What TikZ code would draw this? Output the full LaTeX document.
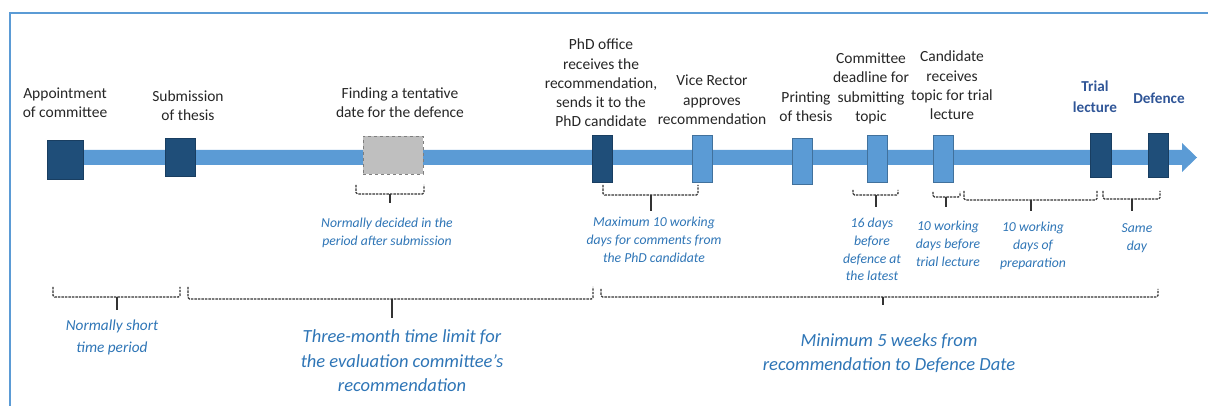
\documentclass[tikz,border=0pt]{standalone}
\usepackage{fontspec}
\setmainfont{Carlito}
\definecolor{barblue}{HTML}{5B9BD5}
\definecolor{darkbox}{HTML}{1F4E79}
\definecolor{lightedge}{HTML}{41719C}
\definecolor{greyfill}{HTML}{BFBFBF}
\definecolor{greyedge}{HTML}{7F7F7F}
\definecolor{labelblue}{HTML}{2E75B6}
\definecolor{boldblue}{HTML}{2F5597}
\definecolor{txtcol}{HTML}{262626}
\definecolor{bracecol}{HTML}{333333}
\newcommand{\tlbrace}[6]{%
  \draw[bracestyle] (#1,#3) -- (#1,#4) -- (#2,#4) -- (#2,#3);
  \draw[bracecol, line width=1.1pt] (#5,#4) -- (#5,#6);
}
\begin{document}
\begin{tikzpicture}[x=1pt,y=-1pt,
  dbox/.style={rectangle, fill=darkbox, draw=darkbox!80!black, line width=0.5pt, inner sep=0, outer sep=0},
  lbox/.style={rectangle, fill=barblue, draw=lightedge, line width=0.7pt, inner sep=0, outer sep=0},
  gbox/.style={rectangle, fill=greyfill, draw=greyedge, dashed, line width=0.8pt, inner sep=0, outer sep=0},
  lbl/.style={align=center, inner sep=0, text=txtcol, font=\fontsize{15.5}{19.3}\selectfont},
  blbl/.style={align=center, inner sep=0, text=boldblue, font=\bfseries\fontsize{15.2}{21}\selectfont},
  slbl/.style={align=center, inner sep=0, text=labelblue, font=\itshape\fontsize{13.7}{17.8}\selectfont},
  mlbl/.style={align=center, inner sep=0, text=labelblue, font=\itshape\fontsize{15.3}{22}\selectfont},
  llbl/.style={align=center, inner sep=0, text=labelblue, font=\itshape\fontsize{18.5}{24.5}\selectfont},
  bracestyle/.style={draw=bracecol, line width=1.1pt, dash pattern=on 2.4pt off 1.1pt, rounded corners=1.5pt}
]
\useasboundingbox (0,0) rectangle (1208,406);
% frame
\draw[barblue, line width=1.6pt] (10,406) -- (10,13) -- (1208,13);
% timeline arrow
\fill[barblue] (50,150) -- (1182,150) -- (1182,143) -- (1197,157.5) -- (1182,172) -- (1182,165) -- (50,165) -- cycle;
% boxes
\node[dbox, minimum width=36pt, minimum height=39pt] (b1) at (65,159.5) {};
\node[dbox, minimum width=30pt, minimum height=38pt] (b2) at (180,157) {};
\node[gbox, minimum width=60pt, minimum height=38pt] (b3) at (393,155) {};
\node[dbox, minimum width=20pt, minimum height=47pt] (b4) at (602,158.5) {};
\node[lbox, minimum width=20pt, minimum height=47pt] (b5) at (702,158.5) {};
\node[lbox, minimum width=20pt, minimum height=46pt] (b6) at (802,161) {};
\node[lbox, minimum width=20pt, minimum height=47pt] (b7) at (877,158.5) {};
\node[lbox, minimum width=20pt, minimum height=47pt] (b8) at (943,158.5) {};
\node[dbox, minimum width=21pt, minimum height=44pt] (b9) at (1100.5,155) {};
\node[dbox, minimum width=20pt, minimum height=44pt] (b10) at (1158,155) {};
% event labels
\node[lbl] (t1) at (65,103) {Appointment\\of committee};
\node[lbl] (t2) at (188,106) {Submission\\of thesis};
\node[lbl] (t3) at (400,103) {Finding a tentative\\date for the defence};
\node[lbl] (t4) at (601,83) {PhD office\\receives the\\recommendation,\\sends it to the\\PhD candidate};
\node[lbl] (t5) at (712,100) {Vice Rector\\approves\\recommendation};
\node[lbl] (t6) at (806,107) {Printing\\of thesis};
\node[lbl] (t7) at (871,88.5) {Committee\\deadline for\\submitting\\topic};
\node[lbl] (t8) at (952,85.5) {Candidate\\receives\\topic for trial\\lecture};
\node[blbl] (t9) at (1095,96.5) {Trial\\lecture};
\node[blbl] (t10) at (1159,98) {Defence};
% braces
\tlbrace{356}{424}{185}{194}{390}{203}
\tlbrace{603}{698}{185}{195}{651}{211}
\tlbrace{853}{898}{190}{195}{876}{207}
\tlbrace{933}{960}{192}{197}{946}{207}
\tlbrace{964}{1097}{191}{200}{1031}{211}
\tlbrace{1103}{1160}{191}{199}{1132}{211}
\tlbrace{53}{180}{287}{297}{117}{310}
\tlbrace{188}{593}{287}{299}{392}{318}
\tlbrace{601}{1158}{289}{297}{883}{305}
% period labels
\node[slbl] (p1) at (387,233) {Normally decided in the\\period after submission};
\node[slbl] (p2) at (654,239.5) {Maximum 10 working\\days for comments from\\the PhD candidate};
\node[slbl] (p3) at (872,249.5) {16 days\\before\\defence at\\the latest};
\node[slbl] (p4) at (948,243.5) {10 working\\days before\\trial lecture};
\node[slbl] (p5) at (1033,246) {10 working\\days of\\preparation};
\node[slbl] (p6) at (1137,238) {Same\\day};
\node[mlbl] (p7) at (112,337) {Normally short\\time period};
\node[llbl] (p8) at (402,361) {Three-month time limit for\\the evaluation committee’s\\recommendation};
\node[llbl] (p9) at (889,353) {Minimum 5 weeks from\\recommendation to Defence Date};
\end{tikzpicture}
\end{document}
